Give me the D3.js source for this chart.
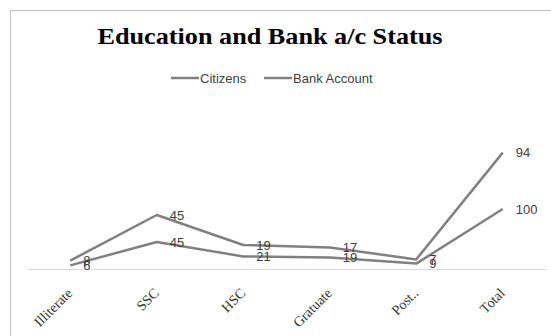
<!DOCTYPE html>
<html>
<head>
<meta charset="utf-8">
<script src="https://cdn.jsdelivr.net/npm/d3@7/dist/d3.min.js"></script>
<style>
  html, body { margin: 0; padding: 0; background: #fff; }
  svg { display: block; }
</style>
</head>
<body>
<svg id="chart" width="551" height="336"></svg>
<script>
// Education levels and the two stacked series
const categories = ["Illiterate", "SSC", "HSC", "Gratuate", "Post..", "Total"];
const citizens = [6, 45, 21, 19, 9, 100];
const bankAccount = [8, 45, 19, 17, 7, 94];
const seriesNames = ["Citizens", "Bank Account"];

const svg = d3.select("#chart");
const W = 551, H = 336;

// chart frame
svg.append("rect")
  .attr("x", 10.5).attr("y", 10.5)
  .attr("width", W + 20).attr("height", H + 20)
  .attr("fill", "#fff").attr("stroke", "#bfbfbf").attr("stroke-width", 1);

// title
svg.append("text")
  .attr("x", 270).attr("y", 44)
  .attr("text-anchor", "middle")
  .attr("font-family", "'Liberation Serif', 'Times New Roman', serif")
  .attr("font-weight", "bold")
  .attr("font-size", 24)
  .attr("textLength", 345)
  .attr("lengthAdjust", "spacingAndGlyphs")
  .attr("fill", "#000")
  .text("Education and Bank a/c Status");

// plot scales
const x = d3.scaleBand().domain(categories).range([27, 546]);
const y = d3.scaleLinear().domain([0, 200]).range([269, 149]);
const cx = d => x(d) + x.bandwidth() / 2;

// stacked values: Citizens at the bottom, Bank Account on top
const stack = d3.stack().keys(seriesNames)(
  categories.map((c, i) => ({ cat: c, "Citizens": citizens[i], "Bank Account": bankAccount[i] }))
);

// category axis
const xAxis = d3.axisBottom(x).tickSize(0).tickFormat("");
const gx = svg.append("g").attr("transform", "translate(0,269)").call(xAxis);
gx.select(".domain").attr("stroke", "#d9d9d9").attr("stroke-width", 1);

svg.append("g").selectAll("text")
  .data(categories)
  .join("text")
  .attr("transform", d => `translate(${cx(d) + 3},294) rotate(-45)`)
  .attr("text-anchor", "end")
  .attr("font-family", "'Liberation Serif', 'Times New Roman', serif")
  .attr("font-size", 14)
  .attr("fill", "#333")
  .text(d => d);

// lines
const line = d3.line()
  .x(d => cx(d.data.cat))
  .y(d => y(d[1]));

svg.append("g").selectAll("path")
  .data(stack)
  .join("path")
  .attr("d", s => line(s))
  .attr("fill", "none")
  .attr("stroke", "#808080")
  .attr("stroke-width", 2.5)
  .attr("stroke-linejoin", "round");

// data labels, each showing its own series value
const labelData = [];
stack.forEach((s, si) => {
  const vals = si === 0 ? citizens : bankAccount;
  s.forEach((d, i) => labelData.push({ cat: d.data.cat, top: d[1], v: vals[i] }));
});
svg.append("g").selectAll("text")
  .data(labelData)
  .join("text")
  .attr("x", d => cx(d.cat) + 13)
  .attr("y", d => y(d.top))
  .attr("dy", "0.35em")
  .attr("font-family", "'Liberation Sans', Arial, sans-serif")
  .attr("font-size", 13)
  .attr("fill", "#404040")
  .text(d => d.v);

// legend
const legend = svg.append("g").attr("font-family", "'Liberation Sans', Arial, sans-serif")
  .attr("font-size", 13).attr("fill", "#404040");
const legendX = [171, 264];
seriesNames.forEach((n, i) => {
  legend.append("line")
    .attr("x1", legendX[i]).attr("x2", legendX[i] + 28)
    .attr("y1", 78).attr("y2", 78)
    .attr("stroke", "#808080").attr("stroke-width", 2.5);
  legend.append("text")
    .attr("x", legendX[i] + 29).attr("y", 78).attr("dy", "0.35em")
    .text(n);
});
</script>
</body>
</html>
